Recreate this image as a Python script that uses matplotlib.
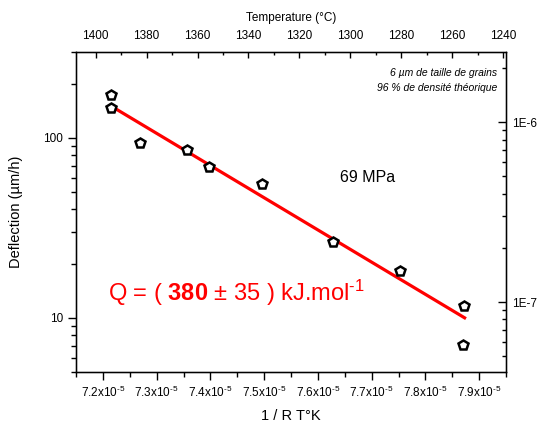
import numpy as np
import matplotlib
matplotlib.use("Agg")
import matplotlib.pyplot as plt
from matplotlib.ticker import FixedLocator, MultipleLocator, LogLocator, FuncFormatter, NullFormatter

plt.rcParams['font.family'] = ['Liberation Sans', 'DejaVu Sans']
plt.rcParams['mathtext.fontset'] = 'custom'
plt.rcParams['mathtext.rm'] = 'Liberation Sans'
plt.rcParams['mathtext.it'] = 'Liberation Sans:italic'
plt.rcParams['mathtext.bf'] = 'Liberation Sans:bold'

# Data
inv_rt = [7.216e-5, 7.215e-5, 7.269e-5, 7.357e-5, 7.398e-5, 7.4955e-5,
          7.629e-5, 7.752e-5, 7.871e-5, 7.870e-5]
deflection = [173, 146, 94.2, 86.1, 68.7, 55.5, 26.3, 18.2, 11.66, 7.02]
fit_x = [7.214e-5, 7.873e-5]
fit_y = [151, 10]
bottom_ticks = [7.2e-5, 7.3e-5, 7.4e-5, 7.5e-5, 7.6e-5, 7.7e-5, 7.8e-5, 7.9e-5]
bottom_labels = ['7.2', '7.3', '7.4', '7.5', '7.6', '7.7', '7.8', '7.9']
temp_ticks = [1400, 1380, 1360, 1340, 1320, 1300, 1280, 1260, 1240]

fig = plt.figure(figsize=(5.4, 4.24), dpi=100)
ax = fig.add_axes([76/540, 1-372/424, (506-76)/540, (372-52)/424])

ax.plot(fit_x, fit_y, color='#ff0000', lw=2.3, zorder=2)
ax.plot(inv_rt, deflection, linestyle='none', marker='p', markersize=7.5,
        markerfacecolor='white', markeredgecolor='black', markeredgewidth=1.8, zorder=3)

ax.set_yscale('log')
ax.set_xlim(7.15e-5, 7.95e-5)
ax.set_ylim(5, 300)
ax.xaxis.set_major_locator(FixedLocator(bottom_ticks))
ax.set_xticklabels([f'{l}x10$^{{\u2010 5}}$'.replace(' ', '') for l in bottom_labels])
ax.xaxis.set_minor_locator(MultipleLocator(0.05e-5))
ax.yaxis.set_major_locator(LogLocator(base=10))
ax.yaxis.set_minor_locator(LogLocator(base=10, subs=np.arange(2, 10)))
ax.yaxis.set_major_formatter(FuncFormatter(lambda v, p: f'{v:g}'))
ax.yaxis.set_minor_formatter(NullFormatter())
ax.tick_params(axis='both', which='major', labelsize=8.5, direction='out', length=6, width=1)
ax.tick_params(axis='both', which='minor', direction='out', length=3.5, width=1)
ax.tick_params(top=False, right=False, which='both')
ax.set_xlabel('1 / R T°K', fontsize=10.5, labelpad=6)
ax.set_ylabel('Deflection (µm/h)', fontsize=10.5, labelpad=14)
for s in ax.spines.values():
    s.set_linewidth(1.0)

# Right axis
ax2 = ax.twinx()
ax2.set_yscale('log')
ax2.set_ylim(4.08e-8, 2.46e-6)
ax2.yaxis.set_major_locator(LogLocator(base=10))
ax2.yaxis.set_minor_locator(LogLocator(base=10, subs=np.arange(2, 10)))
ax2.yaxis.set_major_formatter(FuncFormatter(lambda v, p: f'1E{int(round(np.log10(v)))}'))
ax2.yaxis.set_minor_formatter(NullFormatter())
ax2.tick_params(axis='y', which='major', labelsize=8.5, direction='in', length=6, width=1, pad=4)
ax2.tick_params(axis='y', which='minor', direction='in', length=3, width=1)

# Top axis
ax3 = ax.twiny()
ax3.set_xlim(1407.7, 1238.9)
ax3.xaxis.set_major_locator(FixedLocator(temp_ticks))
ax3.xaxis.set_minor_locator(MultipleLocator(10))
ax3.xaxis.set_major_formatter(FuncFormatter(lambda v, p: f'{v:.0f}'))
ax3.tick_params(axis='x', which='major', labelsize=8.5, direction='in', length=4, width=1, pad=7)
ax3.tick_params(axis='x', which='minor', direction='in', length=2.5, width=1)
ax3.set_xlabel('Temperature (°C)', fontsize=8.5, labelpad=7)

# Annotations
ax.text(497/540, 1-73/424, '6 µm de taille de grains', transform=fig.transFigure,
        ha='right', va='center', fontsize=7.5, style='italic')
ax.text(497/540, 1-88/424, '96 % de densité théorique', transform=fig.transFigure,
        ha='right', va='center', fontsize=7.5, style='italic')
ax.text(340/540, 1-178/424, '69 MPa', transform=fig.transFigure,
        ha='left', va='center', fontsize=11.5)
ax.text(108/540, 1-293/424, 'Q = ( $\\mathbf{380}$ ± 35 ) kJ.mol$^{\u2010 1}$'.replace('\u2010 ', '\u2010'),
        transform=fig.transFigure, ha='left', va='center', fontsize=17, color='#ff0000')

fig.savefig('out.png', dpi=100)
